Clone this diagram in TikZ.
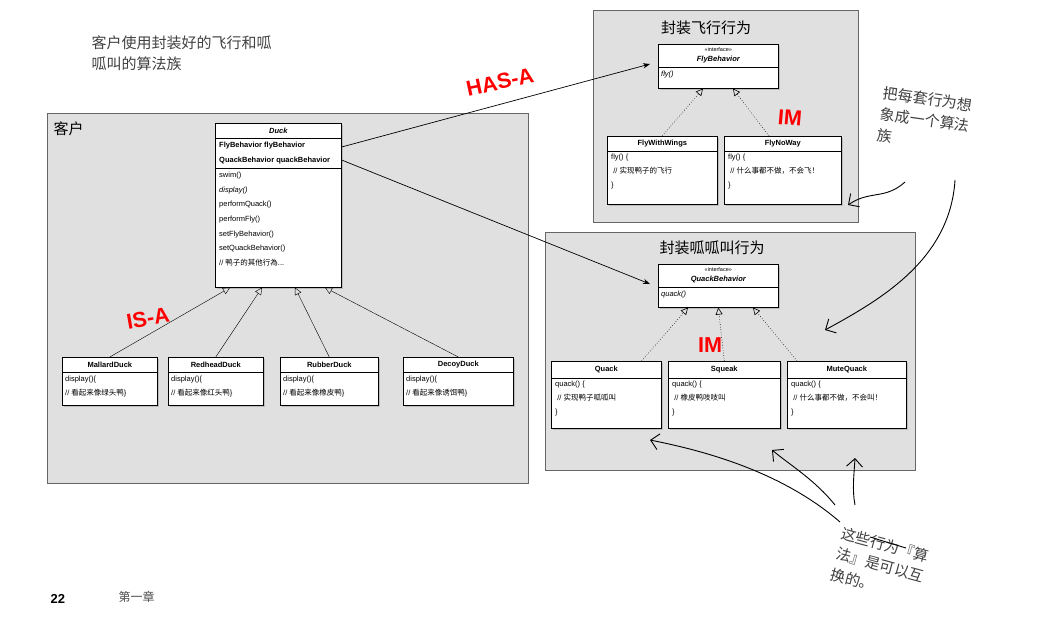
\documentclass[tikz,border=0pt]{standalone}
\usepackage{fontspec}
\setmainfont{Liberation Sans}
\newfontfamily\cjk{Noto Sans CJK SC}
\usetikzlibrary{positioning,shadows,arrows.meta}
\tikzset{
  pane/.style={draw=black!60, fill=black!12, line width=0.8pt},
  umlbox/.style={draw, fill=white, line width=0.6pt, anchor=north west, inner sep=0pt,
    drop shadow={shadow xshift=2pt, shadow yshift=-2pt, fill=black!40}},
  isa/.style={-{Triangle[open,length=7pt,width=7pt]}, line width=0.4pt},
  impl/.style={-{Triangle[open,length=7pt,width=7pt]}, dotted, line width=0.6pt},
  hasa/.style={-{Stealth[length=7pt]}, line width=0.7pt},
  hand/.style={red, font=\bfseries\Large, scale=1.5},
  note/.style={font=\cjk\fontsize{15}{21}\selectfont, text=black!75, align=left},
  txt/.style={anchor=north west, align=left, inner sep=1pt},
  ttl/.style={font=\bfseries\fontsize{7.5}{9}\selectfont},
}
% class box: name, x, y, width, height, header height, title
\newcommand{\umlcls}[7]{%
  \node[umlbox, minimum width=#4pt, minimum height=#5pt] (#1) at (#2,#3) {};
  \draw[line width=0.5pt] ([yshift=-#6pt]#1.north west) -- ([yshift=-#6pt]#1.north east);
  \node[ttl] at ([yshift=-#6pt/2]#1.north) {#7};
}
\begin{document}
\begin{tikzpicture}[x=1pt,y=-1pt]
\useasboundingbox (0,0) rectangle (1064,622);
% panes
\draw[pane] (47,113) rectangle (528,483);
\node[anchor=north west, font=\cjk\fontsize{15}{15}\selectfont] at (50,118) {客户};
\draw[pane] (593,10) rectangle (858,222);
\node[font=\cjk\fontsize{15}{15}\selectfont] at (706,28) {封装飞行行为};
\draw[pane] (545,232) rectangle (915,470);
\node[font=\cjk\fontsize{15}{15}\selectfont] at (712,248) {封装呱呱叫行为};
% Duck
\umlcls{duck}{215}{123}{126}{164}{15}{\itshape Duck}
\draw[line width=0.5pt] ([yshift=-45pt]duck.north west) -- ([yshift=-45pt]duck.north east);
\node[txt, font=\bfseries\fontsize{7.5}{15}\selectfont] at (218,141) {FlyBehavior flyBehavior\\QuackBehavior quackBehavior};
\node[txt, font=\fontsize{7.5}{14.6}\selectfont] at (218,171) {swim()\\\itshape display()\\performQuack()\\performFly()\\setFlyBehavior()\\setQuackBehavior()\\// {\cjk 鸭子的其他行為}...};
% subclasses
\umlcls{mallard}{62}{357}{95}{48}{15}{MallardDuck}
\umlcls{redhead}{168}{357}{95}{48}{15}{RedheadDuck}
\umlcls{rubber}{280}{357}{98}{48}{15}{RubberDuck}
\umlcls{decoy}{403}{357}{110}{48}{15}{DecoyDuck}
\node[txt, font=\fontsize{7.5}{14}\selectfont] at (64,375) {display()\{\\// {\cjk 看起来像绿头鸭}\}};
\node[txt, font=\fontsize{7.5}{14}\selectfont] at (170,375) {display()\{\\// {\cjk 看起来像红头鸭}\}};
\node[txt, font=\fontsize{7.5}{14}\selectfont] at (282,375) {display()\{\\// {\cjk 看起来像橡皮鸭}\}};
\node[txt, font=\fontsize{7.5}{14}\selectfont] at (405,375) {display()\{\\// {\cjk 看起来像诱饵鸭}\}};
\draw[isa] (mallard.north) -- ([xshift=15pt]duck.south west);
\draw[isa] (redhead.north) -- ([xshift=47pt]duck.south west);
\draw[isa] (rubber.north) -- ([xshift=80pt]duck.south west);
\draw[isa] (decoy.north) -- ([xshift=110pt]duck.south west);
% fly behaviors
\umlcls{flyb}{658}{44}{120}{44}{23}{}
\node[font=\fontsize{5.5}{5.5}\selectfont] at ([yshift=-6pt]flyb.north) {<<interface>>};
\node[font=\bfseries\itshape\fontsize{7.5}{7.5}\selectfont] at ([yshift=-16pt]flyb.north) {FlyBehavior};
\node[txt, font=\itshape\fontsize{7.5}{7.5}\selectfont] at (660,70) {fly()};
\umlcls{wings}{607}{136}{110}{68}{15}{FlyWithWings}
\umlcls{noway}{724}{136}{117}{68}{15}{FlyNoWay}
\node[txt, font=\fontsize{7.5}{14}\selectfont] at (610,153) {fly() \{\\\ // {\cjk 实现鸭子的飞行}\\\}};
\node[txt, font=\fontsize{7.5}{14}\selectfont] at (727,153) {fly() \{\\\ // {\cjk 什么事都不做，不会飞！}\\\}};
\draw[impl] (wings.north) -- ([xshift=45pt]flyb.south west);
\draw[impl] ([xshift=45pt]noway.north west) -- ([xshift=75pt]flyb.south west);
% quack behaviors
\umlcls{quackb}{658}{264}{120}{43}{23}{}
\node[font=\fontsize{5.5}{5.5}\selectfont] at ([yshift=-6pt]quackb.north) {<<interface>>};
\node[font=\bfseries\itshape\fontsize{7.5}{7.5}\selectfont] at ([yshift=-16pt]quackb.north) {QuackBehavior};
\node[txt, font=\itshape\fontsize{7.5}{7.5}\selectfont] at (660,290) {quack()};
\umlcls{quack}{551}{361}{110}{67}{17}{Quack}
\umlcls{squeak}{668}{361}{112}{67}{17}{Squeak}
\umlcls{mute}{787}{361}{119}{67}{17}{MuteQuack}
\node[txt, font=\fontsize{7.5}{14}\selectfont] at (554,380) {quack() \{\\\ // {\cjk 实现鸭子呱呱叫}\\\}};
\node[txt, font=\fontsize{7.5}{14}\selectfont] at (671,380) {quack() \{\\\ // {\cjk 橡皮鸭吱吱叫}\\\}};
\node[txt, font=\fontsize{7.5}{14}\selectfont] at (790,380) {quack() \{\\\ // {\cjk 什么事都不做，不会叫！}\\\}};
\draw[impl] ([xshift=-20pt]quack.north east) -- ([xshift=30pt]quackb.south west);
\draw[impl] (squeak.north) -- (quackb.south);
\draw[impl] ([xshift=10pt]mute.north west) -- ([xshift=95pt]quackb.south west);
% has-a
\draw[hasa] ([yshift=-24pt]duck.north east) -- ([yshift=-20pt,xshift=-8pt]flyb.north west);
\draw[hasa] ([yshift=-37pt]duck.north east) -- ([yshift=-20pt,xshift=-8pt]quackb.north west);
% handwriting
\node[hand, rotate=12] at (500,82) {HAS-A};
\node[hand, rotate=10] at (148,318) {IS-A};
\node[hand, rotate=-5] at (790,118) {IM};
\node[hand] at (710,345) {IM};
% notes
\node[note, anchor=north west] (client) at (88,32) {客户使用封装好的飞行和呱\\呱叫的算法族};
\node[note, rotate=-8] (algo) at (925,120) {把每套行为想\\象成一个算法\\族};
\node[note, rotate=-15] (swap) at (880,565) {这些行为『算\\法』是可以互\\换的。};
\draw[line width=0.9pt] (870,537) -- (906,548);
\draw[-{Straight Barb[length=8pt]}, line width=0.9pt] (905,182) .. controls (885,200) and (870,190) .. (848,205);
\draw[-{Straight Barb[length=8pt]}, line width=0.9pt] (955,180) .. controls (950,260) and (880,300) .. (825,330);
\coordinate (qtip) at (650,440);
\coordinate (stip) at (772,450);
\coordinate (mtip) at (855,458);
\draw[-{Straight Barb[length=8pt]}, line width=0.9pt] (840,522) .. controls (780,470) and (700,450) .. (qtip);
\draw[-{Straight Barb[length=8pt]}, line width=0.9pt] (835,505) .. controls (815,480) and (790,465) .. (stip);
\draw[-{Straight Barb[length=8pt]}, line width=0.9pt] (855,505) .. controls (852,490) and (854,475) .. (mtip);
% page number
\node[anchor=west, font=\bfseries\fontsize{13}{13}\selectfont] at (47,599) {22};
\node[anchor=west, font=\cjk\fontsize{12}{12}\selectfont, text=black!70] at (115,597) {第一章};
\end{tikzpicture}
\end{document}
